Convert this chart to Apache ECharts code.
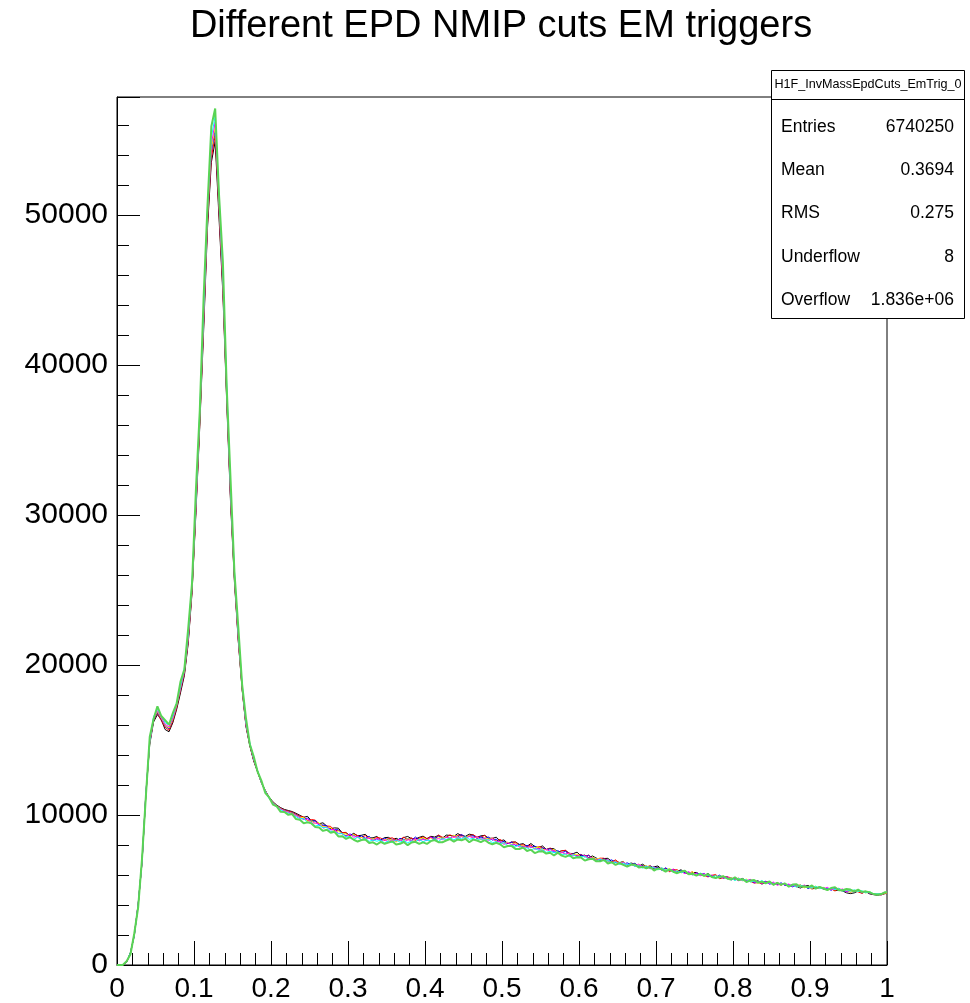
<!DOCTYPE html>
<html>
<head>
<meta charset="utf-8">
<script src="https://cdn.jsdelivr.net/npm/echarts@6/dist/echarts.min.js"></script>
<style>
  html, body { margin: 0; padding: 0; background: #ffffff; }
  #chart { width: 970px; height: 1003px; }
</style>
</head>
<body>
<div id="chart"></div>
<script>
// Invariant-mass histograms (200 bins on [0, 1]) for several EPD NMIP cuts, EM triggers.
const TITLE = 'Different EPD NMIP cuts EM triggers';
const X_RANGE = [0, 1];
const N_BINS = 200;
const Y_MAX = 57867;

const statsTitle = 'H1F_InvMassEpdCuts_EmTrig_0';
const statsLabels = ['Entries', 'Mean', 'RMS', 'Underflow', 'Overflow'];
const statsValues = ['6740250', '0.3694', '0.275', '8', '1.836e+06'];

// bin contents, one array per cut
const cut0 = [
  0, 0, 180, 850, 1950, 4100, 6800, 11300, 14700, 16200,
  16700, 16350, 15700, 15550, 16150, 17050, 18150, 19300, 21450, 24850,
  30150, 35900, 42300, 49100, 53500, 54900, 49800, 44750, 37500, 30800,
  25550, 21600, 18350, 15900, 14600, 13600, 12880, 12150, 11650, 11200,
  10880, 10660, 10490, 10370, 10300, 10230, 10110, 9980, 9850, 9910,
  9600, 9620, 9420, 9480, 9260, 9090, 9140, 9120, 8810, 8810,
  8630, 8780, 8610, 8650, 8710, 8470, 8480, 8570, 8330, 8490,
  8510, 8350, 8450, 8320, 8500, 8570, 8420, 8400, 8510, 8590,
  8420, 8580, 8530, 8640, 8440, 8660, 8640, 8580, 8760, 8630,
  8580, 8720, 8670, 8510, 8610, 8640, 8460, 8440, 8520, 8270,
  8340, 8100, 8190, 8200, 8040, 8090, 7910, 8100, 7900, 7820,
  7940, 7710, 7770, 7750, 7530, 7610, 7630, 7440, 7430, 7520,
  7270, 7330, 7150, 7270, 7120, 7000, 7100, 7110, 6900, 6930,
  6820, 6900, 6660, 6800, 6730, 6590, 6720, 6560, 6450, 6550,
  6600, 6370, 6400, 6270, 6380, 6240, 6350, 6150, 6060, 6160,
  6170, 6030, 5950, 6100, 5900, 5970, 5760, 5870, 5880, 5700,
  5750, 5650, 5770, 5550, 5660, 5550, 5610, 5390, 5520, 5540,
  5360, 5400, 5330, 5450, 5230, 5350, 5240, 5130, 5250, 5310,
  5090, 5100, 5180, 5140, 5010, 5120, 4960, 5000, 4930, 4810,
  4760, 4810, 4930, 4800, 4890, 4740, 4690, 4650, 4700, 4760
];
const cut1 = [
  0, 0, 210, 780, 2050, 3950, 6950, 11400, 14850, 16300,
  16800, 16300, 15850, 15650, 16250, 17150, 18300, 19400, 21550, 24950,
  30300, 36100, 42600, 49350, 53800, 55300, 50150, 45000, 37750, 31000,
  25700, 21650, 18400, 15950, 14650, 13650, 12900, 12170, 11620, 11160,
  10840, 10620, 10450, 10330, 10260, 10190, 10060, 9930, 9860, 9630,
  9700, 9660, 9400, 9270, 9270, 9240, 8950, 8990, 8830, 8840,
  8570, 8720, 8630, 8500, 8630, 8460, 8380, 8510, 8460, 8310,
  8430, 8480, 8340, 8370, 8520, 8340, 8480, 8300, 8450, 8530,
  8430, 8540, 8410, 8660, 8520, 8500, 8680, 8520, 8640, 8680,
  8510, 8630, 8680, 8520, 8530, 8640, 8400, 8460, 8270, 8370,
  8210, 8090, 8190, 8190, 7980, 8020, 7920, 8000, 7760, 7900,
  7830, 7680, 7800, 7630, 7510, 7610, 7650, 7400, 7420, 7280,
  7380, 7230, 7330, 7120, 7020, 7120, 7120, 6960, 6870, 7010,
  6800, 6860, 6650, 6750, 6760, 6580, 6630, 6520, 6630, 6400,
  6500, 6380, 6440, 6220, 6340, 6350, 6160, 6190, 6110, 6220,
  5990, 6100, 5980, 5870, 5980, 6030, 5800, 5800, 5870, 5820,
  5690, 5790, 5620, 5660, 5580, 5460, 5490, 5440, 5550, 5500,
  5360, 5500, 5340, 5410, 5230, 5320, 5220, 5350, 5180, 5260,
  5060, 5190, 5100, 5170, 5010, 5080, 4930, 5120, 4950, 5000,
  4850, 4970, 4870, 4780, 4900, 4780, 4700, 4720, 4670, 4770
];
const cut2 = [
  0, 0, 190, 820, 1980, 4050, 6850, 11450, 14800, 16350,
  16850, 16400, 15950, 15750, 16350, 17250, 18400, 19500, 21700, 25150,
  30500, 36400, 42900, 49700, 54200, 55700, 50500, 45350, 38000, 31200,
  25850, 21800, 18500, 16000, 14700, 13700, 12930, 12180, 11610, 11150,
  10830, 10610, 10430, 10300, 10220, 10150, 10020, 9880, 9740, 9790,
  9570, 9620, 9300, 9340, 9270, 9020, 9020, 9010, 8750, 8600,
  8730, 8650, 8500, 8610, 8440, 8580, 8330, 8410, 8320, 8450,
  8340, 8400, 8240, 8450, 8330, 8430, 8300, 8530, 8350, 8430,
  8330, 8520, 8440, 8570, 8440, 8550, 8430, 8640, 8530, 8700,
  8510, 8580, 8610, 8440, 8540, 8450, 8530, 8330, 8390, 8180,
  8230, 8110, 8200, 7970, 8020, 7860, 7980, 7850, 7930, 7740,
  7800, 7690, 7750, 7510, 7620, 7480, 7580, 7360, 7410, 7240,
  7350, 7210, 7310, 7090, 7120, 6960, 7080, 6930, 7010, 6830,
  6840, 6710, 6810, 6700, 6780, 6580, 6630, 6450, 6590, 6460,
  6500, 6320, 6480, 6300, 6320, 6190, 6300, 6140, 6190, 6010,
  6130, 6020, 6100, 5910, 5970, 5820, 5990, 5790, 5850, 5670,
  5750, 5650, 5750, 5610, 5670, 5480, 5590, 5500, 5580, 5390,
  5460, 5370, 5480, 5300, 5350, 5210, 5350, 5220, 5280, 5090,
  5230, 5130, 5210, 5050, 5110, 4980, 5130, 4970, 5010, 4900,
  4990, 4890, 4980, 4820, 4870, 4790, 4710, 4730, 4680, 4810
];
const cut3 = [
  0, 0, 205, 790, 2030, 3980, 6920, 11380, 14820, 16420,
  16900, 16450, 16000, 15800, 16400, 17300, 18450, 19600, 21800, 25250,
  30650, 36500, 43100, 49900, 54400, 55900, 50700, 45500, 38200, 31350,
  25950, 21880, 18560, 16050, 14730, 13720, 12940, 12190, 11620, 11140,
  10820, 10600, 10420, 10280, 10200, 10120, 9990, 9850, 9820, 9580,
  9600, 9430, 9480, 9200, 9190, 9160, 8870, 8930, 8750, 8730,
  8560, 8710, 8490, 8500, 8390, 8500, 8360, 8470, 8260, 8380,
  8320, 8390, 8200, 8380, 8290, 8430, 8280, 8380, 8340, 8490,
  8340, 8460, 8330, 8520, 8450, 8540, 8430, 8660, 8500, 8570,
  8480, 8630, 8470, 8530, 8360, 8500, 8380, 8430, 8230, 8240,
  8080, 8190, 8040, 8110, 7920, 7970, 7810, 7910, 7790, 7860,
  7690, 7710, 7570, 7700, 7490, 7520, 7360, 7460, 7330, 7390,
  7210, 7260, 7080, 7200, 7070, 7130, 6940, 6980, 6830, 6910,
  6780, 6880, 6690, 6730, 6580, 6690, 6560, 6630, 6460, 6510,
  6340, 6470, 6350, 6420, 6240, 6300, 6140, 6240, 6110, 6210,
  6010, 6060, 5910, 6040, 5890, 5950, 5800, 5940, 5770, 5800,
  5650, 5760, 5650, 5730, 5550, 5610, 5450, 5590, 5460, 5510,
  5350, 5420, 5330, 5450, 5260, 5340, 5260, 5330, 5140, 5230,
  5110, 5260, 5090, 5150, 5000, 5080, 5010, 5080, 4940, 5010,
  4860, 4990, 4890, 4920, 4800, 4900, 4730, 4750, 4700, 4800
];
const cut4 = [
  0, 0, 220, 760, 2080, 4020, 6880, 11480, 14870, 16480,
  16950, 16500, 16050, 15880, 16480, 17380, 18500, 19680, 21900, 25400,
  30800, 36700, 43300, 50200, 54700, 56200, 50950, 45750, 38400, 31500,
  26080, 21970, 18630, 16100, 14760, 13740, 12950, 12190, 11610, 11130,
  10800, 10580, 10400, 10260, 10180, 10090, 9960, 9820, 9700, 9740,
  9460, 9470, 9400, 9130, 9190, 9020, 9030, 8780, 8760, 8570,
  8720, 8520, 8580, 8360, 8450, 8450, 8290, 8460, 8290, 8350,
  8210, 8350, 8270, 8370, 8190, 8360, 8280, 8420, 8280, 8370,
  8290, 8520, 8350, 8430, 8350, 8520, 8450, 8580, 8440, 8560,
  8420, 8580, 8470, 8560, 8380, 8440, 8290, 8430, 8220, 8250,
  8040, 8150, 8020, 8060, 7870, 7930, 7820, 7920, 7720, 7760,
  7610, 7710, 7580, 7640, 7420, 7510, 7410, 7470, 7280, 7320,
  7170, 7310, 7120, 7160, 6980, 7090, 6960, 7020, 6830, 6880,
  6760, 6860, 6700, 6720, 6580, 6730, 6530, 6590, 6410, 6540,
  6400, 6460, 6290, 6350, 6380, 6190, 6230, 6090, 6220, 6060,
  6120, 5950, 6100, 5940, 5990, 5790, 5900, 5810, 5880, 5700,
  5760, 5610, 5720, 5610, 5710, 5520, 5570, 5440, 5550, 5420,
  5530, 5310, 5420, 5340, 5400, 5260, 5310, 5170, 5340, 5170,
  5230, 5090, 5160, 5080, 5180, 5010, 5090, 5000, 5070, 4880,
  5010, 4910, 4980, 4820, 4900, 4810, 4740, 4700, 4750, 4840
];
const cut5 = [
  0, 0, 230, 810, 2010, 3970, 6960, 11420, 14950, 16560,
  17050, 16620, 16150, 16000, 16600, 17500, 18600, 19800, 22050, 25600,
  31050, 36950, 43650, 50550, 55150, 56600, 51350, 46100, 38700, 31750,
  26300, 22130, 18760, 16200, 14830, 13780, 12980, 12200, 11600, 11110,
  10770, 10540, 10350, 10210, 10120, 10030, 9890, 9750, 9750, 9520,
  9490, 9270, 9330, 9140, 9180, 8900, 8910, 8750, 8760, 8530,
  8570, 8380, 8510, 8350, 8450, 8240, 8340, 8250, 8330, 8140,
  8270, 8160, 8340, 8190, 8290, 8150, 8270, 8210, 8370, 8210,
  8330, 8280, 8420, 8240, 8420, 8370, 8480, 8350, 8480, 8420,
  8550, 8380, 8440, 8310, 8430, 8300, 8380, 8150, 8220, 8080,
  8160, 7950, 8010, 7890, 7980, 7770, 7820, 7660, 7780, 7640,
  7680, 7510, 7580, 7480, 7550, 7350, 7400, 7230, 7350, 7200,
  7220, 7230, 7040, 7100, 6940, 7050, 6930, 7000, 6810, 6860,
  6700, 6800, 6680, 6760, 6570, 6620, 6460, 6590, 6450, 6500,
  6340, 6480, 6320, 6370, 6180, 6280, 6150, 6240, 6100, 6110,
  5980, 6130, 5950, 5990, 5860, 5950, 5840, 5920, 5740, 5800,
  5630, 5770, 5640, 5690, 5530, 5600, 5490, 5630, 5460, 5500,
  5350, 5470, 5370, 5440, 5290, 5320, 5190, 5330, 5210, 5250,
  5120, 5250, 5100, 5140, 5040, 5130, 5030, 5110, 4920, 5020,
  4920, 5010, 4900, 4950, 4810, 4890, 4740, 4750, 4750, 4840
];
const cut6 = [
  0, 0, 250, 720, 2120, 3850, 7100, 11250, 15200, 16400,
  17250, 16600, 16320, 16020, 16800, 17450, 18900, 19720, 22450, 25500,
  31700, 36950, 44500, 50600, 55900, 57100, 51350, 46900, 38500, 32350,
  26200, 22550, 18700, 16450, 14720, 13920, 12900, 12290, 11480, 11180,
  10690, 10570, 10210, 10200, 10010, 10060, 9730, 9680, 9450, 9510,
  9440, 9200, 9170, 8940, 9020, 8820, 8880, 8570, 8590, 8410,
  8520, 8350, 8230, 8330, 8370, 8130, 8180, 8030, 8210, 8080,
  8160, 8250, 8040, 8080, 8200, 7990, 8170, 8210, 8070, 8180,
  8070, 8260, 8330, 8190, 8180, 8300, 8390, 8220, 8370, 8320,
  8410, 8180, 8360, 8300, 8190, 8330, 8150, 8050, 8140, 8050,
  7850, 7930, 7940, 7740, 7730, 7830, 7600, 7690, 7460, 7560,
  7590, 7430, 7480, 7300, 7490, 7290, 7210, 7330, 7110, 7180,
  7170, 6960, 7050, 7090, 6910, 6910, 7010, 6770, 6850, 6680,
  6800, 6670, 6560, 6680, 6700, 6500, 6540, 6450, 6530, 6300,
  6440, 6380, 6230, 6370, 6220, 6120, 6230, 6280, 6050, 6080,
  5960, 6080, 5950, 6060, 5870, 5790, 5890, 5910, 5770, 5700,
  5850, 5660, 5730, 5530, 5640, 5670, 5490, 5550, 5450, 5570,
  5350, 5470, 5360, 5440, 5220, 5360, 5380, 5210, 5250, 5180,
  5300, 5090, 5210, 5100, 5000, 5130, 5190, 4980, 4980, 5070,
  5030, 4910, 5020, 4860, 4910, 4840, 4730, 4680, 4730, 4850
];

const cutNames = ['NMIP cut 0', 'NMIP cut 1', 'NMIP cut 2', 'NMIP cut 3', 'NMIP cut 4', 'NMIP cut 5', 'NMIP cut 6'];
const cutCounts = [cut0, cut1, cut2, cut3, cut4, cut5, cut6];
const cutColors = ['#000000', '#ff0000', '#0000ff', '#ffff00', '#ff00ff', '#00ffff', '#59d454'];
const cutWidths = [1, 1, 1, 1, 1, 1, 2];

const FONT = '"Liberation Sans", Arial, Helvetica, sans-serif';
const binWidth = (X_RANGE[1] - X_RANGE[0]) / N_BINS;

// outline through the bin centres, held flat out to both range edges
function histPoints(counts) {
  const pts = [[X_RANGE[0], counts[0]]];
  counts.forEach((v, i) => pts.push([X_RANGE[0] + (i + 0.5) * binWidth, v]));
  pts.push([X_RANGE[1], counts[counts.length - 1]]);
  return pts;
}

const series = cutCounts.map((counts, k) => ({
  name: cutNames[k],
  type: 'line',
  data: histPoints(counts),
  symbol: 'none',
  silent: true,
  animation: false,
  lineStyle: { color: cutColors[k], width: cutWidths[k] },
  z: 2 + k
}));

const tickColor = '#000000';
const axisCommon = {
  axisLine: { show: true, lineStyle: { color: tickColor, width: 1 } },
  splitLine: { show: false },
  minorTick: { show: true, splitNumber: 5, length: 12, lineStyle: { color: tickColor, width: 1 } }
};

const statsTop = 70, statsLeft = 771, statsW = 193, statsH = 248, rowStep = 43.3;
const statsGraphics = [
  { type: 'rect', shape: { x: statsLeft + 0.5, y: statsTop + 0.5, width: statsW, height: statsH },
    style: { fill: '#ffffff', stroke: '#000000', lineWidth: 1 }, z: 100 },
  { type: 'line', shape: { x1: statsLeft + 0.5, y1: 99.5, x2: statsLeft + statsW + 0.5, y2: 99.5 },
    style: { stroke: '#000000', lineWidth: 1 }, z: 101 },
  { type: 'text', x: statsLeft + statsW / 2 + 0.5, y: 85, z: 101,
    style: { text: statsTitle, fill: '#000000', font: '12.6px ' + FONT, textAlign: 'center', textVerticalAlign: 'middle' } }
];
statsLabels.forEach((lab, i) => {
  const y = 127 + i * rowStep;
  statsGraphics.push({ type: 'text', x: 781, y: y, z: 101,
    style: { text: lab, fill: '#000000', font: '17.5px ' + FONT, textAlign: 'left', textVerticalAlign: 'middle' } });
  statsGraphics.push({ type: 'text', x: 954, y: y, z: 101,
    style: { text: statsValues[i], fill: '#000000', font: '17.5px ' + FONT, textAlign: 'right', textVerticalAlign: 'middle' } });
});

const option = {
  backgroundColor: '#ffffff',
  animation: false,
  grid: { left: 117, top: 97, width: 770, height: 868, show: true, borderColor: '#000000', borderWidth: 1, backgroundColor: 'transparent' },
  xAxis: Object.assign({}, axisCommon, {
    type: 'value', min: X_RANGE[0], max: X_RANGE[1], interval: 0.1,
    axisTick: { show: true, inside: true, length: 24, lineStyle: { color: tickColor, width: 1 } },
    axisLabel: {
      color: '#000000', fontSize: 28, fontFamily: FONT, margin: 10,
      formatter: v => String(parseFloat(Number(v).toFixed(2)))
    }
  }),
  yAxis: Object.assign({}, axisCommon, {
    type: 'value', min: 0, max: Y_MAX, interval: 10000,
    axisTick: { show: true, inside: true, length: 23, lineStyle: { color: tickColor, width: 1 } },
    axisLabel: {
      color: '#000000', fontSize: 30, fontFamily: FONT, margin: 9, showMaxLabel: false,
      formatter: v => String(Math.round(v))
    }
  }),
  graphic: [
    { type: 'text', x: 501, y: 27, z: 100,
      style: { text: TITLE, fill: '#000000', font: '38px ' + FONT, textAlign: 'center', textVerticalAlign: 'middle' } }
  ].concat(statsGraphics),
  series: series
};

const chart = echarts.init(document.getElementById('chart'), null, { renderer: 'canvas' });
chart.setOption(option);
</script>
</body>
</html>
